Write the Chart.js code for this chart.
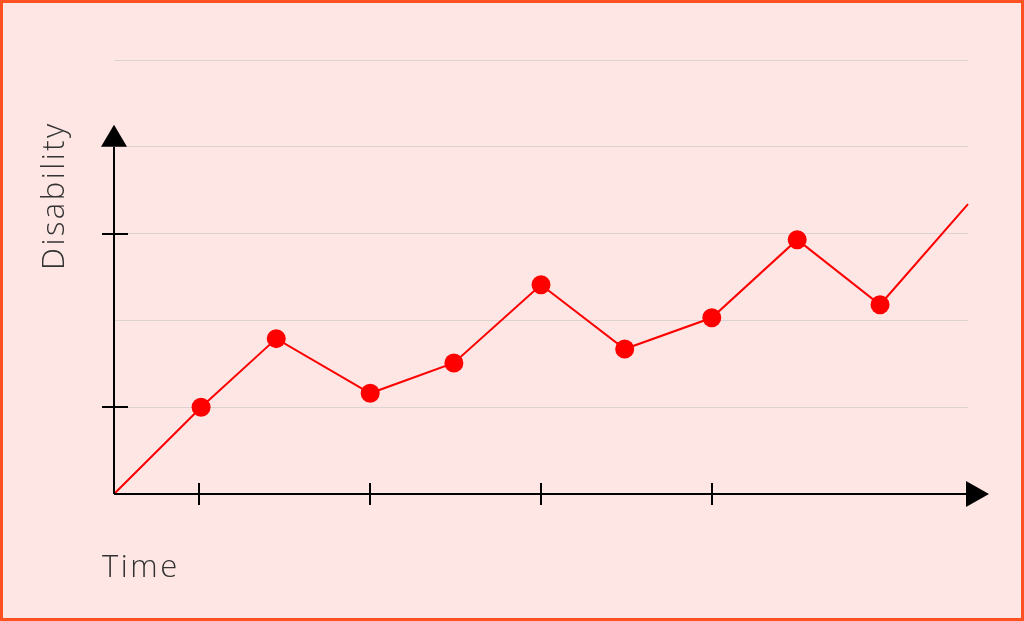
<!DOCTYPE html>
<html>
<head>
<meta charset="utf-8">
<script src="https://cdn.jsdelivr.net/npm/chart.js@4.4.0/dist/chart.umd.min.js"></script>
<style>
  html, body { margin: 0; padding: 0; background: #fee6e5; }
  #wrap { width: 1024px; height: 621px; position: relative; }
</style>
</head>
<body>
<div id="wrap"><canvas id="lineChart" width="1024" height="621"></canvas></div>
<script>
// time positions and disability values
const timeValues = [0, 1.02, 1.9, 3.0, 3.98, 5.0, 5.98, 7.0, 8.0, 8.97, 10];
const disabilityValues = [0, 1.0, 1.79, 1.16, 1.51, 2.41, 1.67, 2.03, 2.93, 2.18, 3.34];
const xTickValues = [1, 3, 5, 7];
const yTickValues = [1, 3];
const xLabel = 'Time';
const yLabel = 'Disability';

const points = timeValues.map((t, i) => ({ x: t, y: disabilityValues[i] }));
// no marker on the first and last point
const radii = points.map((p, i) => (i === 0 || i === points.length - 1) ? 0 : 9.5);

const axesPlugin = {
    id: 'axesPlugin',
    beforeDraw(chart) {
        const ctx = chart.ctx;
        ctx.save();
        ctx.fillStyle = '#fee6e5';
        ctx.fillRect(0, 0, chart.width, chart.height);
        ctx.restore();
    },
    afterDatasetsDraw(chart) {
        const ctx = chart.ctx;
        const xs = chart.scales.x;
        const ys = chart.scales.y;
        const x0 = xs.getPixelForValue(0);
        const y0 = ys.getPixelForValue(0);
        const xEnd = xs.getPixelForValue(10);
        const yTop = ys.getPixelForValue(4);

        ctx.save();
        ctx.strokeStyle = '#000';
        ctx.fillStyle = '#000';
        ctx.lineWidth = 2;

        // axes
        ctx.beginPath();
        ctx.moveTo(x0, y0);
        ctx.lineTo(xEnd + 2, y0);
        ctx.moveTo(x0, y0);
        ctx.lineTo(x0, yTop);
        ctx.stroke();

        // arrows
        ctx.beginPath();
        ctx.moveTo(xEnd - 2, y0 - 13);
        ctx.lineTo(xEnd + 21, y0);
        ctx.lineTo(xEnd - 2, y0 + 13);
        ctx.closePath();
        ctx.fill();
        ctx.beginPath();
        ctx.moveTo(x0 - 13, yTop);
        ctx.lineTo(x0, yTop - 22);
        ctx.lineTo(x0 + 13, yTop);
        ctx.closePath();
        ctx.fill();

        // tick marks
        ctx.beginPath();
        xTickValues.forEach(v => {
            const px = Math.round(xs.getPixelForValue(v));
            ctx.moveTo(px, y0 - 11);
            ctx.lineTo(px, y0 + 11);
        });
        yTickValues.forEach(v => {
            const py = Math.round(ys.getPixelForValue(v));
            ctx.moveTo(x0 - 12, py);
            ctx.lineTo(x0 + 14, py);
        });
        ctx.stroke();

        // axis titles
        ctx.fillStyle = '#333';
        ctx.font = '300 31px "Open Sans"';
        ctx.letterSpacing = '2.5px';
        ctx.textBaseline = 'alphabetic';
        ctx.textAlign = 'left';
        ctx.fillText(xLabel, 102, 577);
        ctx.translate(64, 270);
        ctx.rotate(-Math.PI / 2);
        ctx.fillText(yLabel, 0, 0);
        ctx.restore();

        // frame
        ctx.save();
        ctx.strokeStyle = '#ff5022';
        ctx.lineWidth = 3;
        ctx.strokeRect(1.5, 1.5, chart.width - 3, chart.height - 3);
        ctx.restore();
    }
};

new Chart(document.getElementById('lineChart'), {
    type: 'line',
    data: {
        datasets: [{
            data: points,
            borderColor: '#ff0000',
            backgroundColor: '#ff0000',
            borderWidth: 2,
            pointRadius: radii,
            pointBorderWidth: 0,
            pointBackgroundColor: '#ff0000',
            tension: 0,
            clip: false
        }]
    },
    options: {
        responsive: false,
        animation: false,
        layout: { padding: { left: 114, right: 56, top: 60, bottom: 127 } },
        plugins: {
            legend: { display: false },
            tooltip: { enabled: false }
        },
        scales: {
            x: {
                type: 'linear',
                min: 0,
                max: 10,
                display: false
            },
            y: {
                min: 0,
                max: 5,
                display: true,
                grid: {
                    color: (c) => c.tick.value === 0 ? 'rgba(0,0,0,0)' : '#dcd2d2',
                    lineWidth: 1,
                    drawTicks: false
                },
                border: { display: false },
                ticks: { display: false, stepSize: 1 }
            }
        }
    },
    plugins: [axesPlugin]
});
</script>
</body>
</html>
